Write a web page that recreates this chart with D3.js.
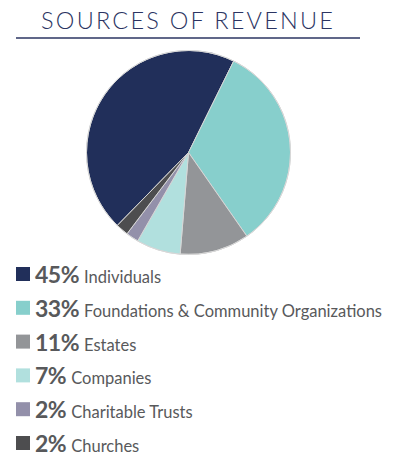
<!DOCTYPE html>
<html><head><meta charset="utf-8">
<script src="https://cdn.jsdelivr.net/npm/d3@7"></script>
<style>
html,body{margin:0;padding:0;background:#fff;}
svg{display:block;}
</style></head>
<body>
<svg id="chart" width="398" height="469"></svg>
<script>
const categories = ["Individuals","Foundations & Community Organizations","Estates","Companies","Charitable Trusts","Churches"];
const values = [45,33,11,7,2,2];
const colors = ["#212f5a","#87cfcc","#939598","#b1e0de","#9390aa","#4d4d4f"];
const title = "SOURCES OF REVENUE";

const svg = d3.select("#chart");
const font = "Lato, 'Open Sans', sans-serif";

// Title
svg.append("text")
  .attr("x", 41).attr("y", 29)
  .attr("font-family", font).attr("font-weight", 300)
  .attr("font-size", 23.5).attr("fill", "#2b3462")
  .attr("textLength", 292).attr("lengthAdjust", "spacing")
  .text(title);
svg.append("line").attr("x1",16).attr("x2",360).attr("y1",38).attr("y2",38)
  .attr("stroke","#2b3462").attr("stroke-width",1.5);

// Pie
const cx = 188.5, cy = 152.5, r = 102;
const start = -135.7 * Math.PI/180;
const pie = d3.pie().sort(null).startAngle(start).endAngle(start + 2*Math.PI);
const arc = d3.arc().innerRadius(0).outerRadius(r);
const g = svg.append("g").attr("transform", `translate(${cx},${cy})`);
g.selectAll("path").data(pie(values)).join("path")
  .attr("d", arc)
  .attr("fill", (d,i) => colors[i])
  .attr("stroke", "#d6d6d6").attr("stroke-width", 1);
g.append("circle").attr("r", r).attr("fill","none").attr("stroke","#d8d8d8").attr("stroke-width",1);

// Legend
const rowY = d3.scaleLinear().domain([0,1]).range([283, 283+33.8]);
const leg = svg.append("g");
categories.forEach((c,i) => {
  const y = rowY(i);
  leg.append("rect").attr("x",16).attr("y", y-16).attr("width",14).attr("height",14).attr("fill", colors[i]);
  const tx = leg.append("text").attr("x",35).attr("y",y)
    .attr("font-family", font).attr("fill","#58595b");
  tx.append("tspan").attr("font-weight",700).attr("font-size",23).attr("letter-spacing",-0.5).text(values[i] + "%");
  tx.append("tspan").attr("font-weight",400).attr("font-size",16.5).attr("dx",5).text(c);
});
</script>
</body></html>
